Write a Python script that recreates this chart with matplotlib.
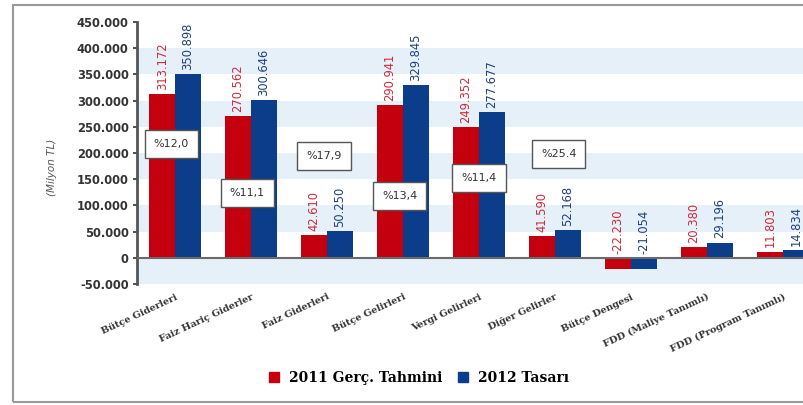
import matplotlib
matplotlib.use('Agg')
import matplotlib.pyplot as plt
from matplotlib.lines import Line2D
from matplotlib.patches import Rectangle
from matplotlib.ticker import FuncFormatter

# Bütçe büyüklükleri (Milyon TL)
categories = ['Bütçe Giderleri', 'Faiz Hariç Giderler', 'Faiz Giderleri',
              'Bütçe Gelirleri', 'Vergi Gelirleri', 'Diğer Gelirler',
              'Bütçe Dengesi', 'FDD (Maliye Tanımlı)', 'FDD (Program Tanımlı)']
values_2011 = [313172, 270562, 42610, 290941, 249352, 41590, -22230, 20380, 11803]
values_2012 = [350898, 300646, 50250, 329845, 277677, 52168, -21054, 29196, 14834]
series_names = ['2011 Gerç. Tahmini', '2012 Tasarı']

# artış oranları ve kutuların yerleri (x, y)
growth_labels = ['%12,0', '%11,1', '%17,9', '%13,4', '%11,4', '%25.4']
growth_pos = [(-0.05, 217000), (0.95, 124000), (1.96, 195000),
              (2.96, 118000), (4.0, 153000), (5.05, 198000)]

RED = '#c4000e'
BLUE = '#0b3d8a'


def thousands(v, pos=None):
    return '{:,}'.format(int(v)).replace(',', '.')


fig = plt.figure(figsize=(8.04, 4.05), dpi=100)
ax = fig.add_axes([137 / 804, 121 / 405, 684 / 804, 262 / 405])

# arka plandaki bantlar
for lo in range(-50000, 450000, 100000):
    ax.axhspan(lo, lo + 50000, color='#e6f0f8', zorder=0, lw=0)

x = list(range(len(categories)))
w = 0.34
ax.bar([i - w / 2 for i in x], values_2011, w, color=RED, zorder=2)
ax.bar([i + w / 2 for i in x], values_2012, w, color=BLUE, zorder=2)
ax.axhline(0, color='#6a6a6a', lw=1.5, zorder=3)

for i in x:
    for v, dx, col in ((values_2011[i], -w / 2, '#cc2a3a'), (values_2012[i], w / 2, '#1c3f7e')):
        ax.annotate(thousands(v), (i + dx, max(v, 0)), xytext=(0, 3),
                    textcoords='offset points', rotation=90, ha='center', va='bottom',
                    fontsize=8.3, color=col, zorder=4)

for lab, (px, py) in zip(growth_labels, growth_pos):
    ax.text(px, py, lab, ha='center', va='center', fontsize=8, color='#333333', zorder=5,
            bbox=dict(boxstyle='square,pad=0.8', fc='white', ec='#555555', lw=1))

ax.set_xlim(-0.5, len(categories) - 0.5)
ax.set_ylim(-50000, 450000)
ax.set_yticks(range(-50000, 450001, 50000))
ax.yaxis.set_major_formatter(FuncFormatter(thousands))
for lbl in ax.get_yticklabels():
    lbl.set_fontweight('bold')
ax.tick_params(axis='y', labelsize=8.3, colors='#333333', length=3, width=1.2, pad=3)
ax.set_xticks(x)
ax.set_xticklabels(categories, rotation=25, ha='right', rotation_mode='anchor',
                   fontsize=6.9, family='DejaVu Serif', fontweight='bold', color='#333333')
ax.tick_params(axis='x', length=0, pad=6)

for s in ('top', 'right', 'bottom'):
    ax.spines[s].set_visible(False)
ax.spines['left'].set_color('#555555')
ax.spines['left'].set_linewidth(2)
ax.patch.set_alpha(0)

fig.text(52 / 804, 1 - 167 / 405, '(Milyon TL)', rotation=90, ha='center', va='center',
         fontsize=7.5, style='italic', color='#555555')

handles = [Line2D([], [], marker='s', ls='none', color=RED, markersize=7),
           Line2D([], [], marker='s', ls='none', color=BLUE, markersize=7)]
fig.legend(handles, series_names, loc='center', bbox_to_anchor=(418 / 804, 1 - 378 / 405),
           ncol=2, frameon=False, handletextpad=0.6, columnspacing=1.0, handlelength=1,
           prop={'family': 'DejaVu Serif', 'weight': 'bold', 'size': 10})

fig.patches.append(Rectangle((13 / 804, 3 / 405), 830 / 804, 397 / 405, transform=fig.transFigure,
                             fill=False, ec='#9a9a9a', lw=1.5))

fig.savefig('out.png', dpi=100)
